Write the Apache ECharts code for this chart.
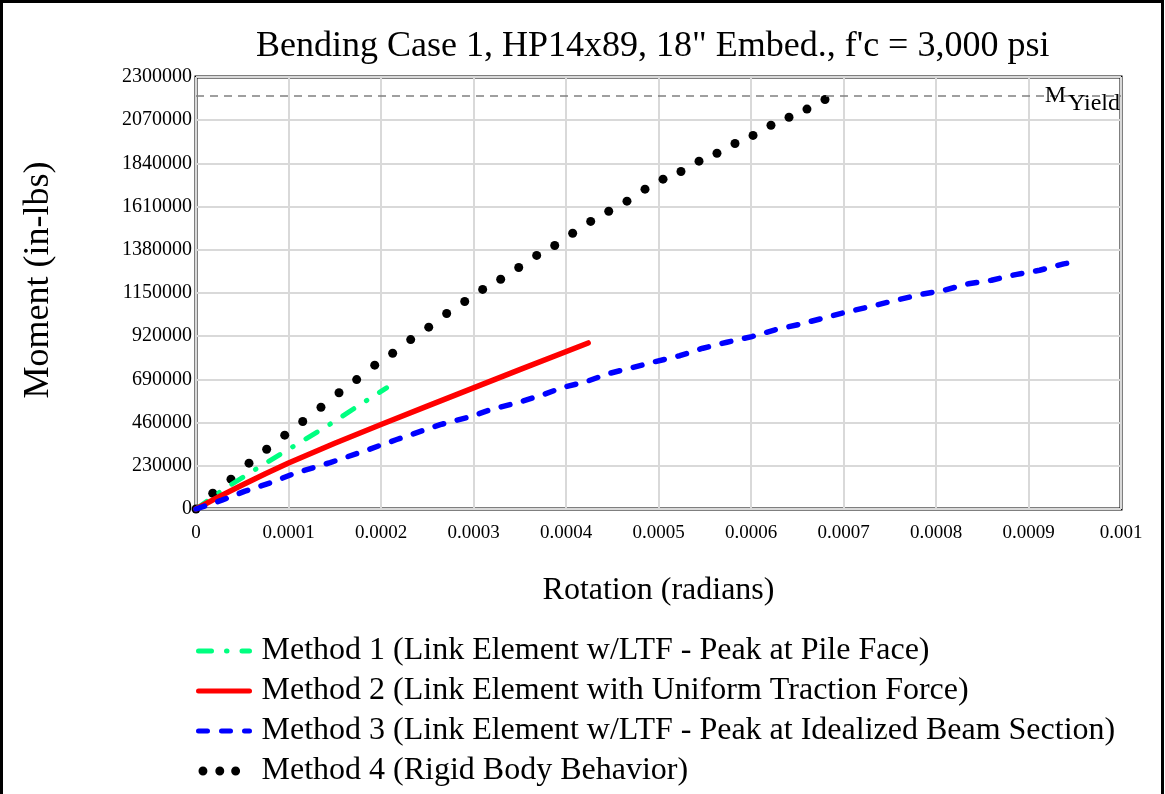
<!DOCTYPE html>
<html><head><meta charset="utf-8">
<script src="https://cdn.jsdelivr.net/npm/echarts@6.0.0/dist/echarts.min.js"></script>
<style>html,body{margin:0;padding:0;background:#fff}#c{width:1165px;height:794px}</style>
</head><body><div id="c"></div>
<script>
const titleText = 'Bending Case 1, HP14x89, 18" Embed., f\'c = 3,000 psi';
const xAxisName = 'Rotation (radians)';
const yAxisName = 'Moment (in-lbs)';
const seriesNames = [
  'Method 1 (Link Element w/LTF - Peak at Pile Face)',
  'Method 2 (Link Element with Uniform Traction Force)',
  'Method 3 (Link Element w/LTF - Peak at Idealized Beam Section)',
  'Method 4 (Rigid Body Behavior)'
];
const xTickLabels = ['0','0.0001','0.0002','0.0003','0.0004','0.0005','0.0006','0.0007','0.0008','0.0009','0.001'];
const yTickLabels = ['0','230000','460000','690000','920000','1150000','1380000','1610000','1840000','2070000','2300000'];
const yieldMoment = 2200000;

const m1Rot = [0, 0.00003, 0.00006, 0.0001, 0.00014, 0.00018, 0.000206];
const m1Mom = [0, 105000, 198000, 318000, 436000, 564000, 645000];

const m2Rot = [0, 0.000025, 0.00005, 0.000075, 0.0001, 0.00015, 0.0002, 0.00025, 0.0003, 0.00035, 0.000424];
const m2Mom = [0, 66000, 128000, 188000, 245000, 350000, 450000, 548000, 645000, 742000, 884000];

const m3Rot = [0, 0.000028, 0.000053, 0.00008, 0.000109, 0.000145, 0.000181, 0.000217, 0.000264, 0.000296,
  0.000321, 0.000347, 0.000376, 0.000397, 0.00042, 0.000446, 0.000471, 0.000496, 0.000523, 0.000548,
  0.000574, 0.000601, 0.000626, 0.000653, 0.000678, 0.000705, 0.000731, 0.000757, 0.000783, 0.000809,
  0.000835, 0.00086, 0.000886, 0.000912, 0.000938, 0.000945];
const m3Mom = [0, 47000, 95000, 139000, 194000, 247000, 307000, 370000, 449000, 491000,
  533000, 565000, 610000, 648000, 675000, 721000, 752000, 784000, 816000, 856000,
  888000, 918000, 954000, 984000, 1016000, 1051000, 1080000, 1112000, 1142000, 1165000,
  1199000, 1218000, 1248000, 1271000, 1305000, 1311000];

const m4Rot = [0, 0.0000181, 0.0000378, 0.0000573, 0.0000764, 0.0000959, 0.0001154, 0.0001351, 0.0001546, 0.0001737,
  0.0001932, 0.0002126, 0.0002321, 0.0002516, 0.000271, 0.0002905, 0.0003099, 0.0003294, 0.0003489, 0.0003683,
  0.0003878, 0.0004072, 0.0004267, 0.0004462, 0.0004659, 0.0004854, 0.0005049, 0.0005243, 0.0005438, 0.0005632,
  0.0005827, 0.0006022, 0.0006216, 0.0006411, 0.0006605, 0.00068];
const m4Mom = [0, 84000, 159000, 244000, 318000, 393000, 466000, 542000, 619000, 689000,
  766000, 829000, 902000, 968000, 1041000, 1105000, 1169000, 1223000, 1286000, 1350000,
  1403000, 1468000, 1531000, 1585000, 1639000, 1703000, 1756000, 1797000, 1852000, 1894000,
  1946000, 1989000, 2043000, 2086000, 2129000, 2180000];

const FONT = '"Liberation Serif","Times New Roman",serif';
const pairs = (xs, ys) => xs.map((x, i) => [x, ys[i]]);

const chart = echarts.init(document.getElementById('c'), null, {renderer: 'canvas'});
chart.setOption({
  animation: false,
  backgroundColor: '#fff',
  title: {
    text: titleText, left: 251, top: 24,
    textStyle: {fontFamily: FONT, fontSize: 36, fontWeight: 'normal', color: '#000'}
  },
  graphic: [{
    type: 'rect', silent: true, z: 100,
    shape: {x: 1.5, y: 1.5, width: 1161, height: 820},
    style: {fill: 'none', stroke: '#000', lineWidth: 3}
  }],
  grid: {
    left: 196, right: 44, top: 77, bottom: 285, show: true,
    borderColor: '#000', borderWidth: 3, backgroundColor: 'transparent',
    outerBoundsMode: 'none'
  },
  xAxis: {
    type: 'value', min: 0, max: 0.001, interval: 0.0001,
    name: xAxisName, nameLocation: 'middle', nameGap: 66,
    nameTextStyle: {fontFamily: FONT, fontSize: 32, color: '#000'},
    axisLine: {show: false}, axisTick: {show: false},
    axisLabel: {fontFamily: FONT, fontSize: 19, color: '#000', margin: 15,
      formatter: v => xTickLabels[Math.round(v / 0.0001)]},
    splitLine: {show: true, lineStyle: {color: '#d9d9d9', width: 2}}
  },
  yAxis: {
    type: 'value', min: 0, max: 2300000, interval: 230000,
    name: yAxisName, nameLocation: 'middle', nameGap: 139,
    nameTextStyle: {fontFamily: FONT, fontSize: 36, color: '#000', padding: [0, 0, 0, 26]},
    axisLine: {show: false}, axisTick: {show: false},
    axisLabel: {fontFamily: FONT, fontSize: 20, color: '#000', margin: 4,
      formatter: v => yTickLabels[Math.round(v / 230000)]},
    splitLine: {show: true, lineStyle: {color: '#d9d9d9', width: 2}}
  },
  legend: {
    orient: 'vertical', left: 196, top: 634, padding: 0,
    itemWidth: 51, itemHeight: 14, itemGap: 6,
    selectedMode: false,
    textStyle: {fontFamily: FONT, fontSize: 32, color: '#000', lineHeight: 34, padding: [0, 0, 0, 7]},
    lineStyle: {width: 5},
    data: [
      {name: seriesNames[0], itemStyle: {opacity: 0}},
      {name: seriesNames[1], itemStyle: {opacity: 0}},
      {name: seriesNames[2], itemStyle: {opacity: 0}},
      {name: seriesNames[3], icon: 'path://M0,0M51,14M-0.5,7a4.5,4.5 0 1,0 9,0a4.5,4.5 0 1,0 -9,0ZM16.5,7a4.5,4.5 0 1,0 9,0a4.5,4.5 0 1,0 -9,0ZM32.5,7a4.5,4.5 0 1,0 9,0a4.5,4.5 0 1,0 -9,0Z'}
    ]
  },
  series: [
    {
      name: 'yield', type: 'line', data: [], silent: true,
      markLine: {
        silent: true, symbol: ['none', 'none'], animation: false,
        data: [{yAxis: yieldMoment}],
        lineStyle: {color: '#808080', width: 1.5, type: [8, 6]},
        emphasis: {disabled: true},
        label: {
          show: true, position: 'insideEnd', distance: 1,
          formatter: '{m|M}{s|Yield}',
          rich: {
            m: {fontFamily: FONT, fontSize: 24, color: '#000', lineHeight: 24, padding: [0, 2, 0, 0]},
            s: {fontFamily: FONT, fontSize: 24, color: '#000', lineHeight: 24, padding: [15, 0, 0, 0]}
          }
        }
      }
    },
    {
      name: seriesNames[0], type: 'line', data: pairs(m1Rot, m1Mom), showSymbol: false, symbol: 'none',
      lineStyle: {color: '#00ff80', width: 5, type: [13, 15, 0.5, 15], cap: 'round'},
      itemStyle: {color: '#00ff80'}, emphasis: {disabled: true}
    },
    {
      name: seriesNames[1], type: 'line', data: pairs(m2Rot, m2Mom), showSymbol: false, symbol: 'none',
      lineStyle: {color: '#ff0000', width: 5.5, type: 'solid', cap: 'round'},
      itemStyle: {color: '#ff0000'}, emphasis: {disabled: true}
    },
    {
      name: seriesNames[2], type: 'line', data: pairs(m3Rot, m3Mom), showSymbol: false, symbol: 'none',
      lineStyle: {color: '#0000ff', width: 5.5, type: [9, 14], cap: 'round'},
      itemStyle: {color: '#0000ff'}, emphasis: {disabled: true}
    },
    {
      name: seriesNames[3], type: 'scatter', data: pairs(m4Rot, m4Mom), symbol: 'circle', symbolSize: 9,
      itemStyle: {color: '#000', opacity: 1}, emphasis: {disabled: true}
    }
  ]
});
</script>
</body></html>
